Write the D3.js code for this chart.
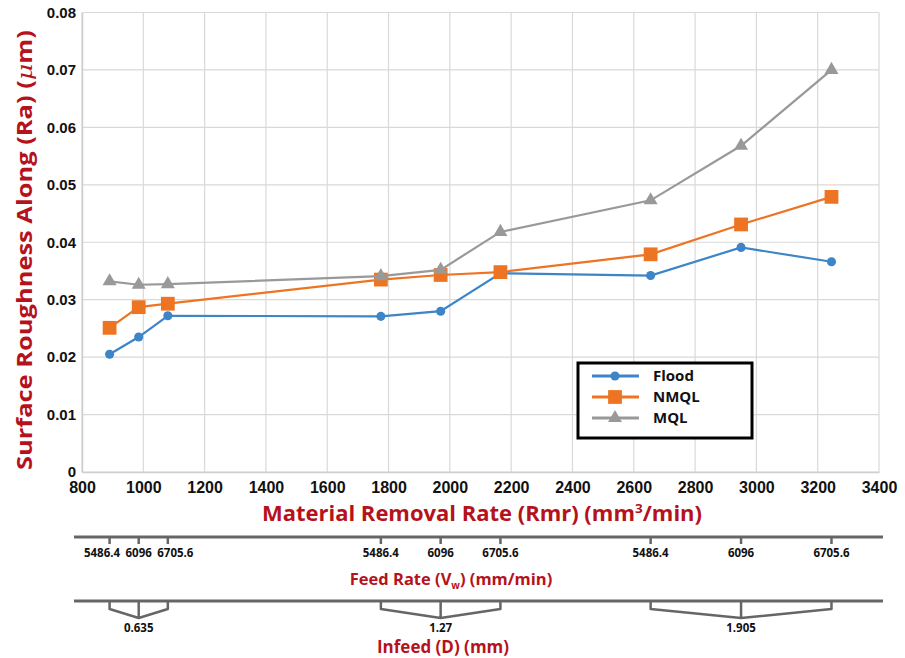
<!DOCTYPE html>
<html>
<head>
<meta charset="utf-8">
<script src="https://cdn.jsdelivr.net/npm/d3@7"></script>
<style>
  html, body { margin: 0; padding: 0; background: #fff; }
  svg { display: block; font-family: "Open Sans", "Noto Sans", sans-serif; }
</style>
</head>
<body>
<svg id="chart" width="905" height="658"></svg>
<script>
// ---- data ----
const rmr = [890, 985, 1080, 1775, 1970, 2165, 2655, 2950, 3245];
const flood = [0.0205, 0.0235, 0.0272, 0.0271, 0.0280, 0.0346, 0.0342, 0.0391, 0.0366];
const nmql  = [0.0251, 0.0287, 0.0293, 0.0335, 0.0343, 0.0348, 0.0379, 0.0431, 0.0479];
const mql   = [0.0332, 0.0326, 0.0327, 0.0341, 0.0352, 0.0418, 0.0473, 0.0568, 0.0700];
const seriesNames = ["Flood", "NMQL", "MQL"];
const xTicks = [800, 1000, 1200, 1400, 1600, 1800, 2000, 2200, 2400, 2600, 2800, 3000, 3200, 3400];
const yTicks = [0, 0.01, 0.02, 0.03, 0.04, 0.05, 0.06, 0.07, 0.08];
const feedRateLabels = ["5486.4", "6096", "6705.6", "5486.4", "6096", "6705.6", "5486.4", "6096", "6705.6"];
const infeedLabels = ["0.635", "1.27", "1.905"];

// ---- styles ----
const colors = { Flood: "#3d85c6", NMQL: "#ed7422", MQL: "#999999" };
const red = "#b5121b";

const svg = d3.select("#chart");
const x = d3.scaleLinear().domain([800, 3400]).range([82, 879]);
const y = d3.scaleLinear().domain([0, 0.08]).range([472, 12.5]);

// grid
const g = svg.append("g");
g.selectAll(".vg").data(xTicks).join("line")
  .attr("x1", d => x(d)).attr("x2", d => x(d))
  .attr("y1", y(0.08)).attr("y2", y(0))
  .attr("stroke", "#d9d9d9").attr("stroke-width", 1.2);
g.selectAll(".hg").data(yTicks).join("line")
  .attr("x1", x(800)).attr("x2", x(3400))
  .attr("y1", d => y(d)).attr("y2", d => y(d))
  .attr("stroke", "#d9d9d9").attr("stroke-width", 1.2);

// axes
const xAxis = d3.axisBottom(x).tickValues(xTicks).tickSize(0).tickPadding(10).tickFormat(d3.format("d"));
const xg = svg.append("g").attr("transform", `translate(0,${y(0)})`).call(xAxis);
xg.select(".domain").attr("stroke", "#cfcfcf").attr("stroke-width", 1.5);
xg.selectAll("text").attr("font-size", 16).attr("font-weight", 700).attr("fill", "#111");

const yAxis = d3.axisLeft(y).tickValues(yTicks).tickSize(0).tickPadding(6)
  .tickFormat(d => d === 0 ? "0" : d3.format(".2f")(d));
const yg = svg.append("g").attr("transform", `translate(${x(800)},0)`).call(yAxis);
yg.select(".domain").attr("stroke", "#cfcfcf").attr("stroke-width", 1.5);
yg.selectAll("text").attr("font-size", 15).attr("font-weight", 700).attr("fill", "#111");

// series
const seriesData = { Flood: flood, NMQL: nmql, MQL: mql };
const line = d3.line().x(d => x(d[0])).y(d => y(d[1]));
const symbols = { Flood: d3.symbolCircle, NMQL: d3.symbolSquare, MQL: d3.symbolTriangle };
const symSize = { Flood: 65, NMQL: 190, MQL: 85 };

seriesNames.forEach(name => {
  const pts = rmr.map((r, i) => [r, seriesData[name][i]]);
  svg.append("path").datum(pts).attr("d", line)
    .attr("fill", "none").attr("stroke", colors[name]).attr("stroke-width", 2.2);
  svg.selectAll(".m" + name).data(pts).join("path")
    .attr("transform", d => `translate(${x(d[0])},${y(d[1])})`)
    .attr("d", d3.symbol().type(symbols[name]).size(symSize[name]))
    .attr("fill", colors[name]);
});

// legend
const lg = svg.append("g");
lg.append("rect").attr("x", 578).attr("y", 363).attr("width", 174).attr("height", 75)
  .attr("fill", "#fff").attr("stroke", "#000").attr("stroke-width", 3);
const legY = [376, 397, 418];
seriesNames.forEach((name, i) => {
  lg.append("line").attr("x1", 592).attr("x2", 639).attr("y1", legY[i]).attr("y2", legY[i])
    .attr("stroke", colors[name]).attr("stroke-width", 3);
  lg.append("path").attr("transform", `translate(615,${legY[i]})`)
    .attr("d", d3.symbol().type(symbols[name]).size(symSize[name]))
    .attr("fill", colors[name]);
  lg.append("text").attr("x", 653).attr("y", legY[i]).attr("dy", "0.35em")
    .attr("font-size", 15).attr("font-weight", 700).attr("fill", "#111").text(name);
});

// axis titles
svg.append("text").attr("x", 482).attr("y", 521).attr("text-anchor", "middle")
  .attr("font-size", 21).attr("font-weight", 700).attr("fill", red)
  .attr("textLength", 440).attr("lengthAdjust", "spacingAndGlyphs")
  .html('Material Removal Rate (Rmr) (mm<tspan font-size="13" dy="-8">3</tspan><tspan dy="8">/min)</tspan>');

const yt = svg.append("text").attr("transform", "translate(32,250) rotate(-90)")
  .attr("text-anchor", "middle").attr("font-size", 21).attr("font-weight", 700).attr("fill", red)
  .attr("textLength", 440).attr("lengthAdjust", "spacingAndGlyphs");
yt.append("tspan").text("Surface Roughness Along (Ra) (");
yt.append("tspan").attr("font-style", "italic").attr("font-weight", 400)
  .attr("font-family", "DejaVu Serif, serif").text("μ");
yt.append("tspan").text("m)");

// feed rate axis
const feedY = 537;
svg.append("line").attr("x1", 74).attr("x2", 883).attr("y1", feedY).attr("y2", feedY)
  .attr("stroke", "#666").attr("stroke-width", 3);
svg.selectAll(".ft").data(rmr).join("line")
  .attr("x1", d => x(d)).attr("x2", d => x(d)).attr("y1", feedY).attr("y2", feedY + 7)
  .attr("stroke", "#666").attr("stroke-width", 2.5);
const fl = svg.selectAll(".fl").data(rmr).join("text")
  .attr("x", d => x(d)).attr("y", 557).attr("text-anchor", "middle")
  .attr("font-size", 11.5).attr("font-weight", 700).attr("fill", "#111")
  .text((d, i) => feedRateLabels[i]);
// spread labels within a group when they would collide
const flNodes = fl.nodes();
for (let k = 0; k < 3; k++) {
  const [a, b, c] = flNodes.slice(k * 3, k * 3 + 3);
  const bb = b.getBBox();
  const ba = a.getBBox(), bc = c.getBBox();
  const gap = 5;
  if (ba.x + ba.width > bb.x - gap) {
    a.setAttribute("x", +a.getAttribute("x") - (ba.x + ba.width - (bb.x - gap)));
  }
  if (bc.x < bb.x + bb.width + gap) {
    c.setAttribute("x", +c.getAttribute("x") + (bb.x + bb.width + gap - bc.x));
  }
}
const fr = svg.append("text").attr("x", 451).attr("y", 585).attr("text-anchor", "middle")
  .attr("font-size", 16.5).attr("font-weight", 700).attr("fill", red);
fr.append("tspan").text("Feed Rate (V");
fr.append("tspan").attr("font-size", 10).attr("dy", 4).text("w");
fr.append("tspan").attr("dy", -4).text(") (mm/min)");

// infeed axis
const infY = 601;
svg.append("line").attr("x1", 74).attr("x2", 883).attr("y1", infY).attr("y2", infY)
  .attr("stroke", "#666").attr("stroke-width", 3);
const groups = [0, 1, 2].map(k => rmr.slice(k * 3, k * 3 + 3));
groups.forEach((grp, k) => {
  const xl = x(grp[0]), xc = x(grp[1]), xr = x(grp[2]);
  const bot = 618;
  svg.append("path")
    .attr("d", `M${xl},${infY}V${infY + 8}L${xc},${bot}L${xr},${infY + 8}V${infY}M${xc},${infY}V${bot}`)
    .attr("fill", "none").attr("stroke", "#666").attr("stroke-width", 2.5).attr("stroke-linejoin", "round");
  svg.append("text").attr("x", xc).attr("y", 632).attr("text-anchor", "middle")
    .attr("font-size", 11.5).attr("font-weight", 700).attr("fill", "#111").text(infeedLabels[k]);
});
svg.append("text").attr("x", 443).attr("y", 653).attr("text-anchor", "middle")
  .attr("font-size", 17).attr("font-weight", 700).attr("fill", red).text("Infeed (D) (mm)");
</script>
</body>
</html>
